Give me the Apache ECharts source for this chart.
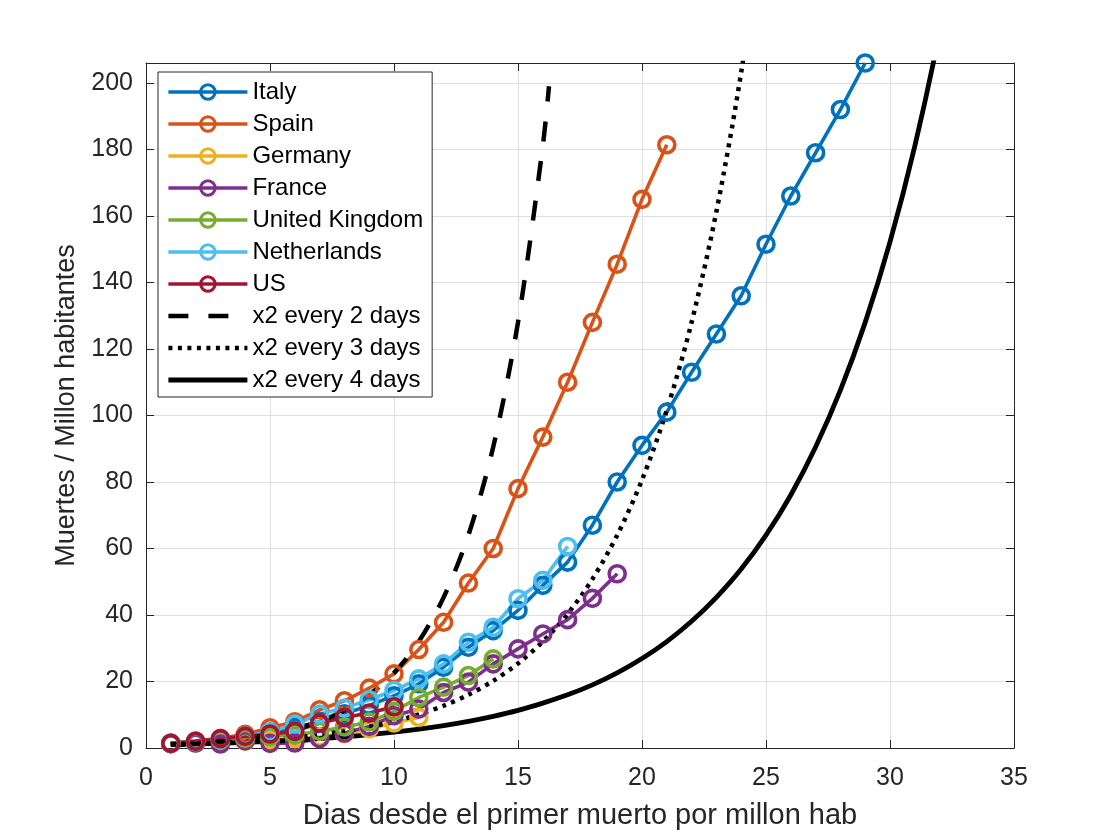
<!DOCTYPE html>
<html>
<head>
<meta charset="utf-8">
<title>Muertes por millon de habitantes</title>
<script src="https://cdn.jsdelivr.net/npm/echarts@6/dist/echarts.min.js"></script>
<style>
  html, body { margin: 0; padding: 0; background: #fff; }
  #chart { width: 1120px; height: 840px; }
</style>
</head>
<body>
<div id="chart"></div>
<script>
// muertes por millon, dia 1 = primer muerto por millon
var italy = [1.4, 1.9, 2.6, 3.6, 4.8, 6.2, 8.0, 10.3, 12.8, 15.7, 19.3, 24.3, 30.3, 35.3, 41.4, 48.9, 55.9, 67, 80, 91, 101, 113, 124.5, 136, 151.5, 166, 179, 192, 206];
var spain = [1.5, 2.1, 2.9, 4.1, 6.1, 7.9, 11.5, 14.2, 18, 22.3, 29.6, 37.8, 49.6, 60, 78, 93.5, 110, 128, 145.5, 165, 181.4];
var germany = [1.4, 1.5, 1.7, 2.0, 2.3, 2.8, 3.3, 4.3, 5.8, 7.5, 9.2];
var france = [1.3, 1.5, 1.2, 2.2, 1.4, 1.5, 2.8, 4.5, 6.5, 9.7, 11.7, 16.7, 19.8, 25.3, 29.8, 34.3, 38.6, 45, 52.4];
var uk = [1.4, 2.0, 2.4, 2.9, 3.4, 4.0, 5.0, 6.3, 7.8, 11.0, 15.2, 18.3, 21.8, 26.8];
var netherlands = [1.4, 1.9, 2.6, 3.6, 4.8, 7.2, 10.2, 12, 14.5, 17.3, 20.8, 25.3, 31.8, 36.3, 44.9, 50.4, 60.6];
var us = [1.4, 2.0, 2.8, 3.5, 4.2, 5.0, 7.5, 9.2, 10.5, 12.4];

var paises = ['Italy', 'Spain', 'Germany', 'France', 'United Kingdom', 'Netherlands', 'US'];
var valores = [italy, spain, germany, france, uk, netherlands, us];

// curvas de referencia
var diasX2 = [1, 2, 3, 4, 5, 6, 7, 8, 9, 10, 11, 12, 13, 14, 15, 16, 16.25];
var cada2 = [1, 1.41, 2, 2.83, 4, 5.66, 8, 11.3, 16, 22.6, 32, 45.3, 64, 90.5, 128, 181, 199];
var diasX3 = [1, 2, 3, 4, 5, 6, 7, 8, 9, 10, 11, 12, 13, 14, 15, 16, 17, 18, 19, 20, 21, 22, 23, 24, 25];
var cada3 = [1, 1.26, 1.59, 2, 2.52, 3.17, 4, 5.04, 6.35, 8, 10.1, 12.7, 16, 20.2, 25.4, 32, 40.3, 50.8, 64, 80.6, 101.6, 128, 161.3, 203.2, 256];
var diasX4 = [1, 2, 3, 4, 5, 6, 7, 8, 9, 10, 11, 12, 13, 14, 15, 16, 17, 18, 19, 20, 21, 22, 23, 24, 25, 26, 27, 28, 29, 30, 31, 32, 33];
var cada4 = [1, 1.19, 1.41, 1.68, 2, 2.38, 2.83, 3.36, 4, 4.76, 5.66, 6.73, 8, 9.51, 11.3, 13.5, 16, 19.0, 22.6, 26.9, 32, 38.1, 45.3, 53.8, 64, 76.1, 90.5, 107.6, 128, 152.2, 181, 215.3, 256];
var referencias = ['x2 every 2 days', 'x2 every 3 days', 'x2 every 4 days'];

var xTicks = [0, 35, 5];
var yTicks = [0, 206, 20];

var colores = ['#0072BD', '#D95319', '#EDB120', '#7E2F8E', '#77AC30', '#4DBEEE', '#A2142F'];
var fuente = "'Liberation Sans', Arial, Helvetica, sans-serif";
var gris = '#262626';

(function () {
  var myChart = echarts.init(document.getElementById('chart'));

  function pares(xs, ys) {
    return ys.map(function (v, i) { return [xs[i], v]; });
  }

  var series = paises.map(function (nombre, k) {
    return {
      name: nombre,
      type: 'line',
      clip: false,
      data: valores[k].map(function (v, i) { return [i + 1, v]; }),
      symbol: 'circle',
      symbolSize: 16,
      lineStyle: { color: colores[k], width: 3.6 },
      itemStyle: { color: 'rgba(0,0,0,0)', borderColor: colores[k], borderWidth: 3.6 },
      emphasis: { disabled: true }
    };
  });

  var estilos = [
    { color: '#000', width: 4.5, type: [20, 20], cap: 'butt' },
    { color: '#000', width: 4.5, type: [4, 5.5], cap: 'butt' },
    { color: '#000', width: 4.8 }
  ];
  var xsRef = [diasX2, diasX3, diasX4];
  var ysRef = [cada2, cada3, cada4];
  referencias.forEach(function (nombre, k) {
    series.push({
      name: nombre, type: 'line', smooth: 0.3, symbol: 'none',
      data: pares(xsRef[k], ysRef[k]),
      lineStyle: estilos[k],
      itemStyle: { color: 'rgba(0,0,0,0)', borderWidth: 0 },
      emphasis: { disabled: true }
    });
  });

  // entradas de la leyenda con el mismo grosor que las series
  var leyenda = series.map(function (s, k) {
    if (k >= paises.length) {
      return { name: s.name, itemStyle: { opacity: 0 }, lineStyle: s.lineStyle };
    }
    return {
      name: s.name,
      lineStyle: { color: colores[k], width: 3.6 },
      itemStyle: { color: 'rgba(0,0,0,0)', borderColor: colores[k], borderWidth: 3 }
    };
  });

  var ejeComun = {
    axisLine: { show: true, onZero: false, lineStyle: { color: gris, width: 1 } },
    axisTick: { show: true, inside: true, length: 8, lineStyle: { color: gris } }
  };

  var option = {
    animation: false,
    backgroundColor: '#fff',
    textStyle: { fontFamily: fuente },
    grid: { left: 146, right: 106, top: 63, bottom: 92, containLabel: false },
    legend: {
      orient: 'vertical',
      left: 158,
      top: 72,
      padding: [8, 9, 5, 8],
      itemWidth: 79,
      itemHeight: 18,
      itemGap: 8,
      backgroundColor: '#fff',
      borderColor: gris,
      borderWidth: 1,
      borderRadius: 0,
      textStyle: { fontFamily: fuente, fontSize: 24, color: '#000', lineHeight: 23 },
      data: leyenda
    },
    xAxis: [{
      type: 'value', position: 'bottom',
      min: xTicks[0], max: xTicks[1], interval: xTicks[2],
      name: 'Dias desde el primer muerto por millon hab',
      nameLocation: 'middle', nameGap: 53,
      nameTextStyle: { fontFamily: fuente, fontSize: 29, color: gris },
      axisLine: ejeComun.axisLine, axisTick: ejeComun.axisTick,
      axisLabel: { fontFamily: fuente, fontSize: 25, color: gris, margin: 18 },
      splitLine: { show: true, lineStyle: { color: '#dfdfdf', width: 1 } }
    }, {
      type: 'value', position: 'top',
      min: xTicks[0], max: xTicks[1], interval: xTicks[2],
      axisLine: ejeComun.axisLine, axisTick: ejeComun.axisTick,
      axisLabel: { show: false }, splitLine: { show: false }
    }],
    yAxis: [{
      type: 'value', position: 'left',
      min: yTicks[0], max: yTicks[1], interval: yTicks[2],
      name: 'Muertes / Millon habitantes',
      nameLocation: 'middle', nameGap: 62,
      nameTextStyle: { fontFamily: fuente, fontSize: 27, color: gris },
      axisLine: ejeComun.axisLine, axisTick: ejeComun.axisTick,
      axisLabel: {
        fontFamily: fuente, fontSize: 25, color: gris, margin: 13,
        formatter: function (v) { return v % yTicks[2] === 0 ? v : ''; }
      },
      splitLine: { show: true, lineStyle: { color: '#dfdfdf', width: 1 } }
    }, {
      type: 'value', position: 'right',
      min: yTicks[0], max: yTicks[1], interval: yTicks[2],
      axisLine: ejeComun.axisLine, axisTick: ejeComun.axisTick,
      axisLabel: { show: false }, splitLine: { show: false }
    }],
    series: series
  };

  myChart.setOption(option);
  window.addEventListener('resize', function () {
    myChart.resize();
  });
})();
</script>
</body>
</html>
